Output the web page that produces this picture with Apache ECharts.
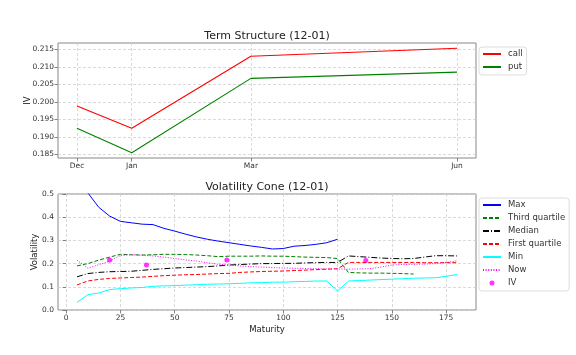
<!DOCTYPE html>
<html>
<head>
<meta charset="utf-8">
<script src="https://cdn.jsdelivr.net/npm/echarts@6/dist/echarts.min.js"></script>
<style>
html,body{margin:0;padding:0;background:#fff;}
#chart{width:576px;height:355px;}
</style>
</head>
<body>
<div id="chart"></div>
<script>
// ---- Term structure data ----
var termDays = [20, 37, 74, 138];
var termLabels = ['Dec', 'Jan', 'Mar', 'Jun'];
var callIV = [0.1988, 0.1925, 0.2130, 0.2153];
var putIV = [0.1925, 0.1855, 0.2067, 0.2085];
var termYTicks = [0.185, 0.190, 0.195, 0.200, 0.205, 0.210, 0.215];

// ---- Volatility cone data ----
var maturities = [5, 10, 15, 20, 25, 30, 35, 40, 45, 50, 55, 60, 65, 70, 75, 80, 85, 90,
                  95, 100, 105, 110, 115, 120, 125, 130, 135, 140, 145, 150, 155, 160, 165, 170, 175, 180];
var coneMax = [0.70, 0.505, 0.443, 0.405, 0.382, 0.376, 0.370, 0.368, 0.352, 0.340, 0.327, 0.315,
               0.305, 0.297, 0.290, 0.283, 0.276, 0.270, 0.263, 0.265, 0.275, 0.278, 0.283, 0.290, 0.305];
var coneQ3 = [0.190, 0.200, 0.215, 0.228, 0.240, 0.238, 0.237, 0.238, 0.240, 0.240, 0.239, 0.237,
              0.234, 0.230, 0.232, 0.232, 0.232, 0.233, 0.232, 0.232, 0.230, 0.228, 0.227, 0.226, 0.222,
              0.162, 0.160, 0.159, 0.159, 0.158, 0.157, 0.155];
var coneMedian = [0.143, 0.157, 0.162, 0.165, 0.166, 0.167, 0.171, 0.175, 0.178, 0.181, 0.183, 0.185,
                  0.187, 0.190, 0.194, 0.196, 0.198, 0.200, 0.200, 0.201, 0.201, 0.203, 0.204, 0.205, 0.205,
                  0.233, 0.230, 0.227, 0.224, 0.222, 0.221, 0.222, 0.228, 0.234, 0.234, 0.233];
var coneQ1 = [0.108, 0.125, 0.132, 0.136, 0.138, 0.140, 0.142, 0.145, 0.148, 0.150, 0.152, 0.153,
              0.155, 0.157, 0.158, 0.162, 0.164, 0.166, 0.167, 0.168, 0.170, 0.172, 0.174, 0.176, 0.178,
              0.205, 0.205, 0.205, 0.205, 0.205, 0.205, 0.205, 0.204, 0.204, 0.204, 0.204];
var coneMin = [0.033, 0.066, 0.073, 0.088, 0.092, 0.095, 0.097, 0.102, 0.104, 0.105, 0.107, 0.109,
               0.111, 0.112, 0.113, 0.115, 0.117, 0.118, 0.120, 0.120, 0.122, 0.123, 0.125, 0.125, 0.082,
               0.125, 0.127, 0.129, 0.131, 0.133, 0.135, 0.137, 0.138, 0.139, 0.145, 0.153];
var coneNow = [0.215, 0.180, 0.195, 0.210, 0.235, 0.238, 0.236, 0.233, 0.228, 0.222, 0.216, 0.211,
               0.204, 0.197, 0.194, 0.190, 0.187, 0.185, 0.183, 0.181, 0.180, 0.179, 0.178, 0.177, 0.177,
               0.176, 0.177, 0.178, 0.185, 0.194, 0.196, 0.197, 0.198, 0.200, 0.205, 0.212];
var ivDays = [20, 37, 74, 138];
var ivValues = [0.215, 0.194, 0.215, 0.213];
var coneXTicks = [0, 25, 50, 75, 100, 125, 150, 175];

function pairs(xs, ys) {
  var out = [];
  for (var i = 0; i < ys.length; i++) out.push([xs[i], ys[i]]);
  return out;
}
function lineEntry(name) { return { name: name, itemStyle: { opacity: 0 } }; }

var FONT = 'DejaVu Sans';
var gridLine = { show: true, lineStyle: { color: '#d0d0d0', type: [3, 2], width: 0.8 } };
var tickStyle = { show: true, inside: false, length: 3.5, lineStyle: { color: '#666', width: 0.8 } };
var lblStyle = { color: '#333', fontFamily: FONT, fontSize: 7.5 };
var legendText = { fontFamily: FONT, fontSize: 8.5, color: '#333', lineHeight: 10, padding: [0, 0, 0, 2] };

var chart = echarts.init(document.getElementById('chart'), null, { renderer: 'canvas' });
chart.setOption({
  animation: false,
  backgroundColor: '#fff',
  title: [
    { text: 'Term Structure (12-01)', left: 267, top: 31, padding: 0, textAlign: 'center',
      textStyle: { fontFamily: FONT, fontSize: 11, fontWeight: 'normal', color: '#222' } },
    { text: 'Volatility Cone (12-01)', left: 267, top: 182, padding: 0, textAlign: 'center',
      textStyle: { fontFamily: FONT, fontSize: 11, fontWeight: 'normal', color: '#222' } }
  ],
  grid: [
    { left: 58, top: 43, width: 418, height: 115, show: true, borderColor: '#888', borderWidth: 1 },
    { left: 58, top: 194, width: 418, height: 116, show: true, borderColor: '#888', borderWidth: 1 }
  ],
  legend: [
    { orient: 'vertical', left: 479, top: 47, padding: [2, 4, 3, 3], itemWidth: 18, itemHeight: 5, itemGap: 3,
      borderColor: '#ddd', borderWidth: 1, borderRadius: 3, backgroundColor: '#fff',
      textStyle: legendText,
      data: [lineEntry('call'), lineEntry('put')] },
    { orient: 'vertical', left: 479, top: 198, padding: [2, 4, 3, 3], itemWidth: 18, itemHeight: 5, itemGap: 3,
      borderColor: '#ddd', borderWidth: 1, borderRadius: 3, backgroundColor: '#fff',
      textStyle: legendText,
      data: [lineEntry('Max'), lineEntry('Third quartile'), lineEntry('Median'), lineEntry('First quartile'),
             lineEntry('Min'), lineEntry('Now'), { name: 'IV' }] }
  ],
  xAxis: [
    { type: 'value', gridIndex: 0, min: 14.1, max: 143.9,
      axisLine: { show: false },
      axisTick: Object.assign({ customValues: termDays }, tickStyle),
      axisLabel: Object.assign({ customValues: termDays, margin: 4,
        formatter: function (v) { var i = termDays.indexOf(v); return i >= 0 ? termLabels[i] : ''; } }, lblStyle),
      splitLine: gridLine },
    { type: 'value', gridIndex: 1, min: -3.75, max: 188.75,
      name: 'Maturity', nameLocation: 'middle', nameGap: 15,
      nameTextStyle: { fontFamily: FONT, fontSize: 8.5, color: '#222', verticalAlign: 'top' },
      axisLine: { show: false },
      axisTick: Object.assign({ customValues: coneXTicks }, tickStyle),
      axisLabel: Object.assign({ customValues: coneXTicks, margin: 4 }, lblStyle),
      splitLine: gridLine }
  ],
  yAxis: [
    { type: 'value', gridIndex: 0, min: 0.18401, max: 0.21679,
      name: 'IV', nameLocation: 'middle', nameGap: 26, nameMoveOverlap: false,
      nameTextStyle: { fontFamily: FONT, fontSize: 8.5, color: '#222' },
      axisLine: { show: false },
      axisTick: Object.assign({ customValues: termYTicks }, tickStyle),
      axisLabel: Object.assign({ customValues: termYTicks, margin: 4,
        formatter: function (v) { return v.toFixed(3); } }, lblStyle),
      splitLine: gridLine },
    { type: 'value', gridIndex: 1, min: 0, max: 0.5, interval: 0.1,
      name: 'Volatility', nameLocation: 'middle', nameGap: 19, nameMoveOverlap: false,
      nameTextStyle: { fontFamily: FONT, fontSize: 8.5, color: '#222' },
      axisLine: { show: false },
      axisTick: tickStyle,
      axisLabel: Object.assign({ margin: 4, formatter: function (v) { return v.toFixed(1); } }, lblStyle),
      splitLine: gridLine }
  ],
  series: [
    { name: 'call', type: 'line', xAxisIndex: 0, yAxisIndex: 0, symbol: 'none',
      color: '#ff0000', lineStyle: { color: '#ff0000', width: 1.1 }, data: pairs(termDays, callIV) },
    { name: 'put', type: 'line', xAxisIndex: 0, yAxisIndex: 0, symbol: 'none',
      color: '#008000', lineStyle: { color: '#008000', width: 1.1 }, data: pairs(termDays, putIV) },

    { name: 'Max', type: 'line', xAxisIndex: 1, yAxisIndex: 1, symbol: 'none', clip: true,
      color: '#0000ff', lineStyle: { color: '#0000ff', width: 1 }, data: pairs(maturities, coneMax) },
    { name: 'Third quartile', type: 'line', xAxisIndex: 1, yAxisIndex: 1, symbol: 'none',
      color: '#008000', lineStyle: { color: '#008000', width: 1, type: [4, 2] }, data: pairs(maturities, coneQ3) },
    { name: 'Median', type: 'line', xAxisIndex: 1, yAxisIndex: 1, symbol: 'none',
      color: '#000000', lineStyle: { color: '#000000', width: 1, type: [6, 2, 1, 2] }, data: pairs(maturities, coneMedian) },
    { name: 'First quartile', type: 'line', xAxisIndex: 1, yAxisIndex: 1, symbol: 'none',
      color: '#ff0000', lineStyle: { color: '#ff0000', width: 1, type: [4, 2] }, data: pairs(maturities, coneQ1) },
    { name: 'Min', type: 'line', xAxisIndex: 1, yAxisIndex: 1, symbol: 'none',
      color: '#00ffff', lineStyle: { color: '#00ffff', width: 1 }, data: pairs(maturities, coneMin) },
    { name: 'Now', type: 'line', xAxisIndex: 1, yAxisIndex: 1, symbol: 'none',
      color: '#ff00ff', lineStyle: { color: '#ff00ff', width: 1, type: [1, 1.6] }, data: pairs(maturities, coneNow) },
    { name: 'IV', type: 'scatter', xAxisIndex: 1, yAxisIndex: 1, symbol: 'circle', symbolSize: 5,
      color: '#ff00ff', itemStyle: { color: '#ff00ff' }, data: pairs(ivDays, ivValues) }
  ]
});
</script>
</body>
</html>
